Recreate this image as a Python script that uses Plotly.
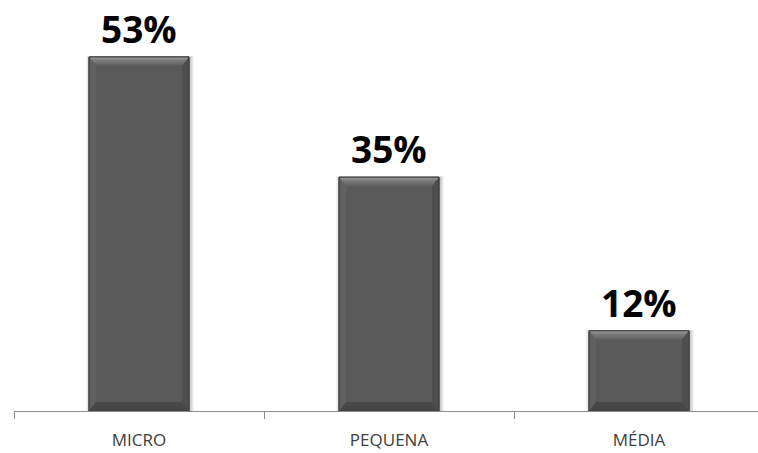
import plotly.graph_objects as go

# Porte das empresas (%)
categorias = ["MICRO", "PEQUENA", "MÉDIA"]
percentuais = [53, 35, 12]

W, H = 758, 453
ML, MB = 14, 42
PX_PER_UNIT_Y = 6.68          # pixels per percentage point
PX_PER_CAT = 250              # pixels per category slot
BAR_W = 0.4                   # bar width in category units

x_pos = list(range(len(categorias)))
y_max = (H - MB) / PX_PER_UNIT_Y
x_max = -0.5 + (W - ML) / PX_PER_CAT

dx = 7 / PX_PER_CAT           # bevel width (horizontal)
dy = 9 / PX_PER_UNIT_Y        # bevel height (vertical)
sx = 1 / PX_PER_CAT
sy = 1 / PX_PER_UNIT_Y

fig = go.Figure()

# soft shadow around the bars
for grow, alpha in [(4, 0.04), (3, 0.05), (2, 0.06), (1, 0.08)]:
    fig.add_trace(go.Bar(
        x=[x + sx for x in x_pos],
        y=[v + grow * sy * 0.3 for v in percentuais],
        width=BAR_W + 2 * grow * sx,
        marker=dict(color=f"rgba(0,0,0,{alpha})", line=dict(width=0)),
        hoverinfo="skip", showlegend=False,
    ))

# main bars
fig.add_trace(go.Bar(
    x=x_pos, y=percentuais, width=BAR_W,
    marker=dict(color="#595959", line=dict(color="#3c3c3c", width=1)),
    showlegend=False, hoverinfo="skip",
))

fig.update_layout(barmode="overlay")

for x, v in zip(x_pos, percentuais):
    x0, x1 = x - BAR_W / 2, x + BAR_W / 2
    # top bevel (light, fading down)
    fig.add_trace(go.Scatter(
        x=[x0, x1, x1 - dx, x0 + dx, x0], y=[v, v, v - dy, v - dy, v],
        mode="lines", line=dict(width=0), fill="toself",
        fillgradient=dict(type="vertical",
                          colorscale=[[0, "#5e5e5e"], [0.6, "#7a7a7a"], [1, "#9e9e9e"]]),
        hoverinfo="skip", showlegend=False,
    ))
    # left bevel (slightly lighter)
    fig.add_trace(go.Scatter(
        x=[x0, x0 + dx, x0 + dx, x0, x0], y=[v, v - dy, dy, 0, v],
        mode="lines", line=dict(width=0), fill="toself", fillcolor="#606060",
        hoverinfo="skip", showlegend=False,
    ))
    # right bevel (darker)
    fig.add_trace(go.Scatter(
        x=[x1, x1 - dx, x1 - dx, x1, x1], y=[v, v - dy, dy, 0, v],
        mode="lines", line=dict(width=0), fill="toself", fillcolor="#4e4e4e",
        hoverinfo="skip", showlegend=False,
    ))
    # bottom bevel (darkest)
    fig.add_trace(go.Scatter(
        x=[x0, x1, x1 - dx, x0 + dx, x0], y=[0, 0, dy, dy, 0],
        mode="lines", line=dict(width=0), fill="toself", fillcolor="#474747",
        hoverinfo="skip", showlegend=False,
    ))
    # outline
    fig.add_trace(go.Scatter(
        x=[x0, x1, x1, x0, x0], y=[0, 0, v, v, 0],
        mode="lines", line=dict(color="#3a3a3a", width=1),
        hoverinfo="skip", showlegend=False,
    ))
    # value label
    fig.add_annotation(
        x=x, y=v, xref="x", yref="y", text=f"{v}%", showarrow=False,
        yanchor="bottom", yshift=1,
        font=dict(family="Open Sans", size=37, color="#000000", weight=700),
    )

fig.update_xaxes(
    range=[-0.5, x_max],
    tickvals=x_pos, ticktext=categorias, ticks="",
    tickfont=dict(family="Open Sans", size=17, color="#404040"),
    ticklabelstandoff=14,
    showline=True, linecolor="#8c8c8c", linewidth=1,
    showgrid=False, zeroline=False,
    minor=dict(tickvals=[-0.5, 0.5, 1.5], ticks="outside", ticklen=7,
               tickcolor="#8c8c8c", tickwidth=1, showgrid=False),
)
fig.update_yaxes(range=[0, y_max], visible=False, showgrid=False, zeroline=False)

fig.update_layout(
    width=W, height=H,
    margin=dict(l=ML, r=0, t=0, b=MB),
    paper_bgcolor="white", plot_bgcolor="white",
)

fig.write_html("out.html")
